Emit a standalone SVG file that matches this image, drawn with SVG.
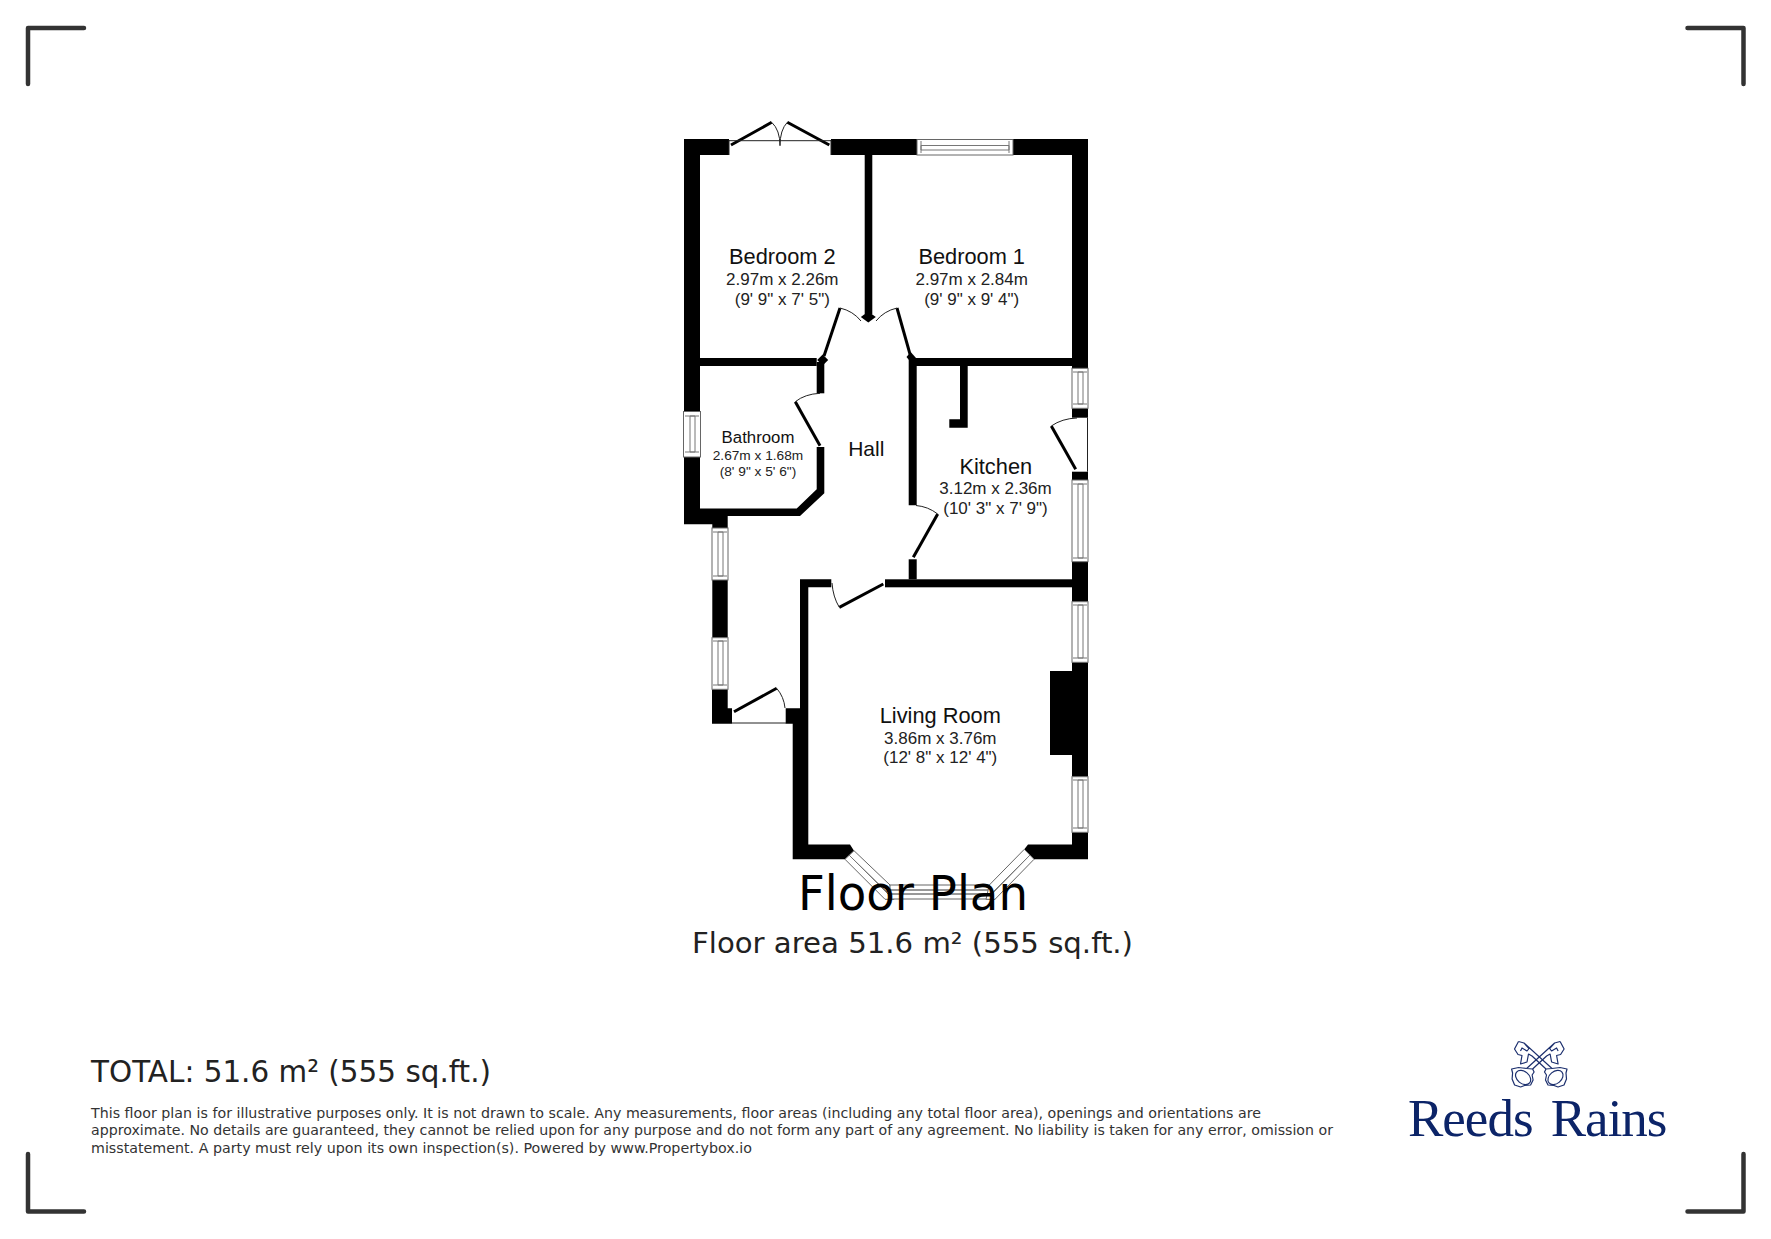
<svg xmlns="http://www.w3.org/2000/svg" width="1771" height="1239" viewBox="0 0 1771 1239">
<style>
text{font-family:"Liberation Sans",Arial,sans-serif;text-anchor:middle;fill:#111}
.t{font-size:21.8px}.s{font-size:17px;fill:#222}.ss{font-size:13.7px;fill:#222}
.foot{font-family:"DejaVu Sans",Verdana,sans-serif;text-anchor:start;font-size:14.5px;fill:#333}
.big{font-family:"DejaVu Sans",Verdana,sans-serif;fill:#000}
.w{fill:#000}
.win{fill:#fff;stroke:#666;stroke-width:1}
.wi{fill:none;stroke:#777;stroke-width:1}
.wd{fill:none;stroke:#333;stroke-width:1}
.leaf{fill:none;stroke:#000;stroke-width:3}
.arc{fill:none;stroke:#222;stroke-width:1}
.cm{fill:none;stroke:#333;stroke-width:4.500;stroke-linecap:round;stroke-linejoin:round}
.key{fill:none;stroke:#1c2f6e;stroke-width:1.200;stroke-linejoin:round}
</style>
<defs>
<g id="key">
<path class="key" d="M1518.500 1041.500L1514.500 1049L1518 1054.500L1522 1055.500L1520.500 1064L1527 1062L1528.500 1054L1532 1056L1546 1069"/>
<path class="key" d="M1518.500 1041.500L1524 1043L1529 1048.500L1527 1051L1522 1048L1520.500 1051M1524 1043L1552 1068.500"/>
<path class="key" d="M1546 1069L1544.500 1072L1546.500 1075L1545.500 1080L1548 1085L1554 1085.500L1558 1087L1564 1085L1566.500 1079L1566 1073L1567 1069L1560 1067.500L1556 1068L1552 1068.500Z"/>
<ellipse class="key" cx="1555.500" cy="1077.500" rx="8.500" ry="6" transform="rotate(-40 1555.500 1077.500)"/>
</g>
</defs>
<rect width="1771" height="1239" fill="#fff"/>
<g id="crop-marks">
<path class="cm" d="M28 84V28H84M1687.500 28H1743.500V84M28 1154V1211.500H84M1687.500 1211.500H1743.500V1154"/>
</g>
<g id="walls">
<path class="w" d="M684 139H729V155H700V358H816.700V366H700V411H684Z"/>
<path class="w" d="M684 457H700V508.500H796.700L816.700 489.300V447H824.300V493.300L800 516H727.700V528H712.300V524.300H684Z"/>
<rect class="w" x="816.700" y="362" width="7.600" height="31.300"/>
<path class="w" d="M822.700 354.500L828.200 360L822.700 365.500L817.200 360Z"/>
<path class="w" d="M831 139H917V155H872.300V314H864.700V155H831Z"/>
<path class="w" d="M868.300 311.500L875.800 317L868.300 322.500L860.800 317Z"/>
<path class="w" d="M1013 139H1088V368H1072V155H1013Z"/>
<path class="w" d="M908.700 358H1072V366H967.700V427.700H949.300V419.300H960V366H916.700V505.300H908.700Z"/>
<path class="w" d="M910.700 352L916 358L910.700 362L906.500 357Z"/>
<rect class="w" x="1072" y="408.300" width="16" height="9.400"/>
<rect class="w" x="1072" y="471.700" width="16" height="8.300"/>
<rect class="w" x="1072" y="561.700" width="16" height="40"/>
<rect class="w" x="712.300" y="580" width="15.400" height="57.700"/>
<path class="w" d="M712 689.300H727.700V708.300H732V723.700H712Z"/>
<path class="w" d="M800 579.300H831.300V587.300H808.300V844.500H850L854 850.700L845 859.300H792.700V723.700H785.700V708.300H800Z"/>
<rect class="w" x="885" y="579.300" width="187" height="8"/>
<rect class="w" x="908.700" y="559.300" width="8" height="20"/>
<path class="w" d="M1072 662.300H1088V776.700H1072V755H1050V671H1072Z"/>
<path class="w" d="M1072 832.300H1088V859.300H1034L1024.300 849.300L1028 844.500H1072Z"/>
</g>
<g id="windows">
<g><rect class="win" x="917" y="139.500" width="96" height="15.500"/><path class="wi" d="M921 145.500H1009V150H921ZM921 141V153M1009 141V153"/></g>
<g><rect class="win" x="683.500" y="411.500" width="17" height="45.500"/><path class="wi" d="M690 416V452H695V416ZM685 416H699M685 452H699"/></g>
<g><rect class="win" x="712" y="528" width="16" height="52"/><path class="wi" d="M718 532V576H723V532ZM713 532H727M713 576H727"/></g>
<g><rect class="win" x="712" y="637.700" width="16" height="51.600"/><path class="wi" d="M718 641V685H723V641ZM713 641H727M713 685H727"/></g>
<g><rect class="win" x="1072" y="368.300" width="16" height="40"/><path class="wi" d="M1078 372V404H1083V372ZM1073 372H1087M1073 404H1087"/></g>
<g><rect class="win" x="1072" y="480" width="16" height="81.700"/><path class="wi" d="M1078 484V558H1083V484ZM1073 484H1087M1073 558H1087"/></g>
<g><rect class="win" x="1072" y="601.700" width="16" height="60.600"/><path class="wi" d="M1078 605V658H1083V605ZM1073 605H1087M1073 658H1087"/></g>
<g><rect class="win" x="1072" y="776.700" width="16" height="55.600"/><path class="wi" d="M1078 780V828H1083V780ZM1073 780H1087M1073 828H1087"/></g>
<g><path class="win" d="M845 859.300L854 850.700L890 885L894 899.300H885Z"/><path class="wi" d="M849 855L889 895M852 858L887 892"/></g>
<g><rect class="win" x="890" y="885" width="105" height="14"/><path class="wd" d="M890 890H995M890 894H995"/></g>
<g><path class="win" d="M1034 859.300L1024.300 849.300L989.300 885L986 899.300H995Z"/><path class="wi" d="M1030 855L991 895M1027 858L993 892"/></g>
</g>
<g id="doors">
<g><path class="leaf" d="M731 145L771.700 122.300M829.300 145L787.300 122.300"/><path class="arc" d="M771.700 122.300Q780 130 780 145.700M787.300 122.300Q780 130 780 145.700M729 140.700H831M729 155V140M831 155V140"/></g>
<g><path class="leaf" d="M840 308L824 356"/><path class="arc" d="M840 308Q853 311 861 321"/></g>
<g><path class="leaf" d="M897 308L910.700 356.700"/><path class="arc" d="M897 308Q884 311 876 321"/></g>
<g><path class="leaf" d="M795.300 401.700L820 445.700"/><path class="arc" d="M795.300 401.700Q805 394 820 393.300"/></g>
<g><path class="leaf" d="M1051.300 426L1075.700 469.300"/><path class="arc" d="M1051.300 426Q1062 418.500 1077 418M1087.500 417.700V471.700"/></g>
<g><path class="leaf" d="M937.700 514L913.300 557.300"/><path class="arc" d="M937.700 514Q928 506.500 916 505.500"/></g>
<g><path class="leaf" d="M839.300 607.300L883.300 584"/><path class="arc" d="M839.300 607.300Q833 597 832 583"/></g>
<g><path class="leaf" d="M734 711.700L776.700 688.300"/><path class="arc" d="M776.700 688.300Q784 697 785 708M732 723H786"/></g>
</g>
<g id="room-bedroom-2"><text class="t" x="782.300" y="264">Bedroom 2</text><text class="s" x="782.300" y="285">2.97m x 2.26m</text><text class="s" x="782.300" y="305">(9' 9" x 7' 5")</text></g>
<g id="room-bedroom-1"><text class="t" x="971.700" y="264">Bedroom 1</text><text class="s" x="971.700" y="285">2.97m x 2.84m</text><text class="s" x="971.700" y="305">(9' 9" x 9' 4")</text></g>
<g id="room-bathroom"><text style="font-size:16.800px" x="758" y="443">Bathroom</text><text class="ss" x="758" y="460">2.67m x 1.68m</text><text class="ss" x="758" y="476">(8' 9" x 5' 6")</text></g>
<g id="room-hall"><text style="font-size:21px" x="866.300" y="456">Hall</text></g>
<g id="room-kitchen"><text class="t" x="995.800" y="474">Kitchen</text><text class="s" x="995.500" y="494">3.12m x 2.36m</text><text class="s" x="995.500" y="514">(10' 3" x 7' 9")</text></g>
<g id="room-living"><text class="t" x="940.300" y="723">Living Room</text><text class="s" x="940.300" y="744">3.86m x 3.76m</text><text class="s" x="940.300" y="763">(12' 8" x 12' 4")</text></g>
<g id="titles">
<text class="big" x="913" y="910" style="font-size:48px" textLength="230" lengthAdjust="spacingAndGlyphs">Floor Plan</text>
<text class="big" x="912.500" y="953" style="font-size:28px;fill:#222" textLength="441" lengthAdjust="spacingAndGlyphs">Floor area 51.6 m² (555 sq.ft.)</text>
</g>
<g id="footer">
<text class="big" x="91" y="1082" style="font-size:31px;text-anchor:start;fill:#222" textLength="400" lengthAdjust="spacingAndGlyphs">TOTAL: 51.6 m² (555 sq.ft.)</text>
<text class="foot" x="91" y="1118" textLength="1170" lengthAdjust="spacingAndGlyphs">This floor plan is for illustrative purposes only. It is not drawn to scale. Any measurements, floor areas (including any total floor area), openings and orientations are</text>
<text class="foot" x="91" y="1135" textLength="1242" lengthAdjust="spacingAndGlyphs">approximate. No details are guaranteed, they cannot be relied upon for any purpose and do not form any part of any agreement. No liability is taken for any error, omission or</text>
<text class="foot" x="91" y="1153" textLength="661" lengthAdjust="spacingAndGlyphs">misstatement. A party must rely upon its own inspection(s). Powered by www.Propertybox.io</text>
</g>
<g id="logo">
<use href="#key"/>
<use href="#key" transform="matrix(-1 0 0 1 3078.600 0)"/>
<text x="1408" y="1135.500" style="font-family:'Liberation Serif',serif;font-size:53px;fill:#0c2468;text-anchor:start;letter-spacing:-1px;word-spacing:6px">Reeds Rains</text>
</g>
</svg>
